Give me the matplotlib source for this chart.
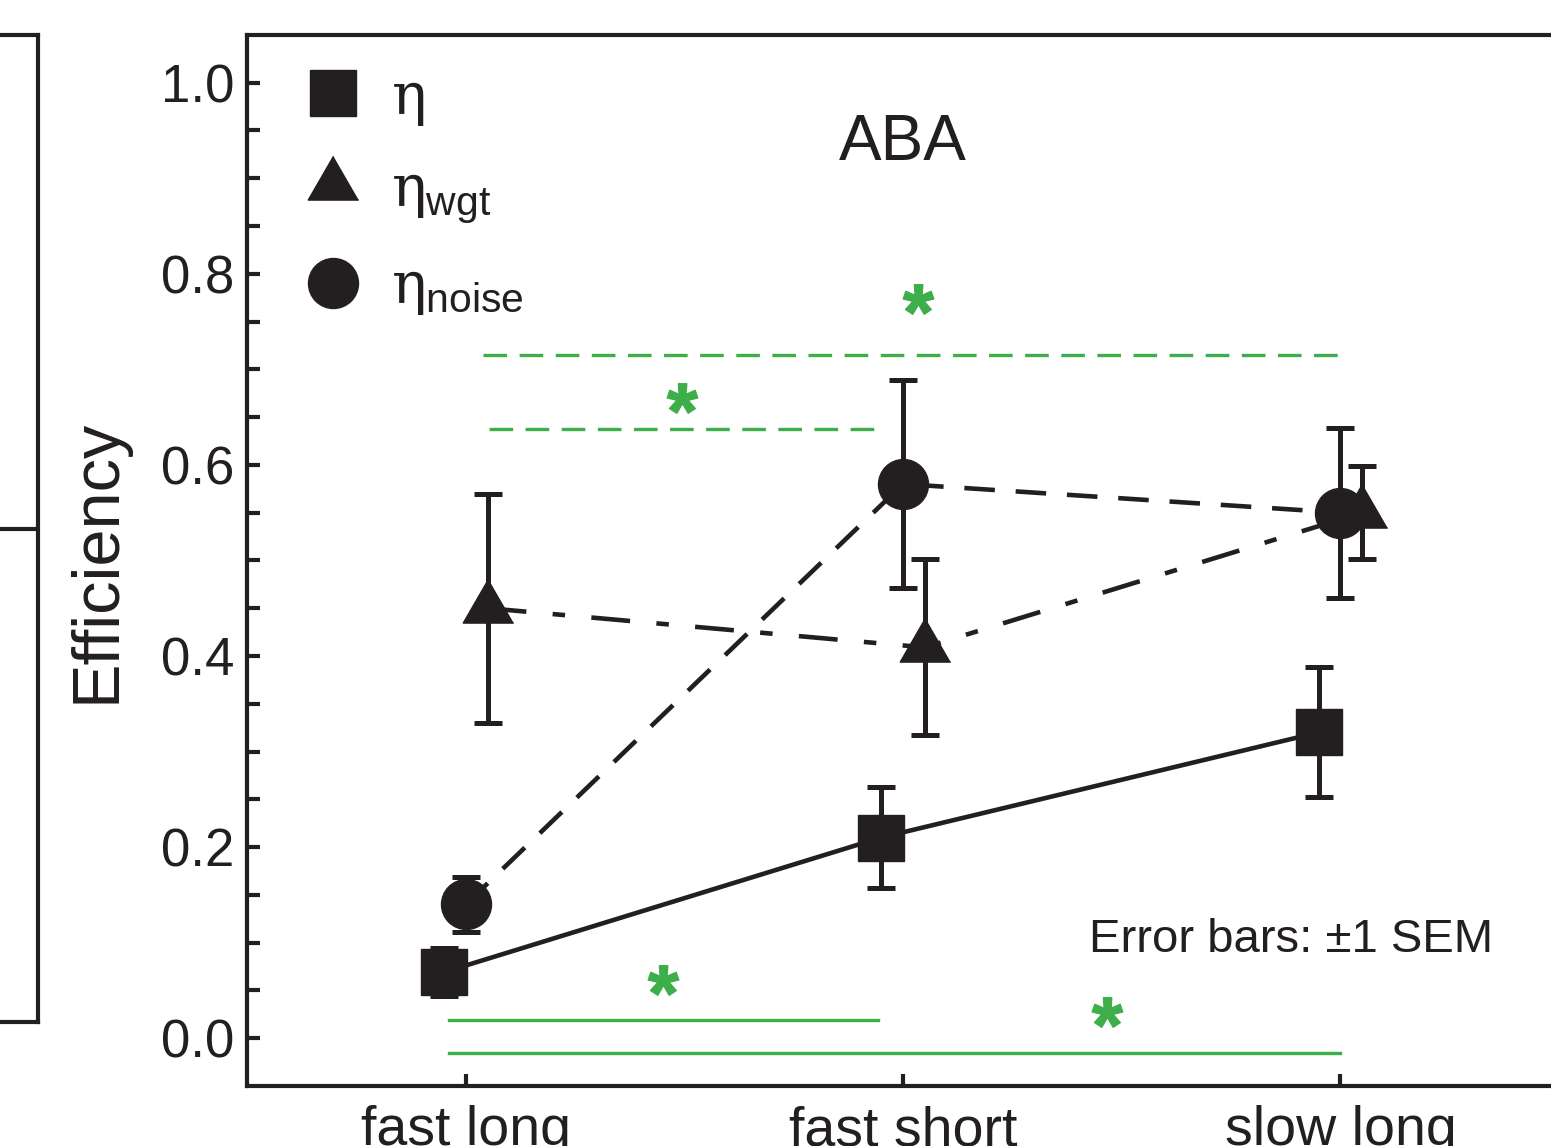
import numpy as np
import matplotlib.pyplot as plt
from matplotlib.lines import Line2D
from matplotlib.textpath import TextPath
from matplotlib.font_manager import FontProperties
from matplotlib.path import Path

plt.rcParams['font.family'] = 'Liberation Sans'
plt.rcParams['mathtext.fontset'] = 'custom'
plt.rcParams['mathtext.it'] = 'DejaVu Serif'
plt.rcParams['mathtext.rm'] = 'Liberation Sans'
plt.rcParams['mathtext.sf'] = 'Liberation Sans'
plt.rcParams['lines.scale_dashes'] = False

# data
conditions = ['fast long', 'fast short', 'slow long']
eta = [0.069, 0.210, 0.320]
eta_sem = [0.025, 0.053, 0.068]
eta_wgt = [0.450, 0.409, 0.550]
eta_wgt_sem = [0.120, 0.092, 0.049]
eta_noise = [0.140, 0.580, 0.550]
eta_noise_sem = [0.029, 0.109, 0.089]

# significance bars (x start, x end, y) and asterisk positions
dashed_bars = [(0.04, 2.01, 0.715), (0.053, 0.939, 0.638)]
solid_bars = [(-0.039, 0.942, 0.019), (-0.039, 2.0, -0.016)]
stars = [(1.033, 0.774), (0.494, 0.670), (0.45, 0.061), (1.467, 0.027)]

black = '#231f20'
green = '#3dae4a'

# centred equilateral triangle and asterisk markers
h = 1 / np.sqrt(3)
tri = [(0, h), (-0.5, -h / 2), (0.5, -h / 2)]
tp = TextPath((0, 0), '*', prop=FontProperties(family='Liberation Sans', weight='bold'))
verts = tp.vertices.copy()
real = tp.codes != Path.CLOSEPOLY
centre = (verts[real].min(axis=0) + verts[real].max(axis=0)) / 2
verts[~real] = centre
star = Path(verts - centre, tp.codes)

fig = plt.figure(figsize=(15.51, 11.46), dpi=100)

# neighbouring panel, only its right edge is visible
ax0 = fig.add_axes([-0.1, 0.108, 0.1245, 0.8615])
for s in ax0.spines.values():
    s.set_linewidth(3)
    s.set_color(black)
ax0.set_xticks([])
ax0.set_ylim(0, 1)
ax0.yaxis.tick_right()
ax0.set_yticks([0.5])
ax0.tick_params(axis='y', direction='in', length=40, width=3, colors=black, labelright=False)

ax = fig.add_axes([0.1593, 0.0524, 0.8459, 0.9171])
x = np.arange(len(conditions))

ax.errorbar(x - 0.05, eta, yerr=eta_sem, fmt='none', ecolor=black, elinewidth=3.6, capsize=10, capthick=3.6)
ax.errorbar(x + 0.05, eta_wgt, yerr=eta_wgt_sem, fmt='none', ecolor=black, elinewidth=3.6, capsize=10, capthick=3.6)
ax.errorbar(x, eta_noise, yerr=eta_noise_sem, fmt='none', ecolor=black, elinewidth=3.6, capsize=10, capthick=3.6)

ax.plot(x - 0.05, eta, color=black, lw=3.3, marker='s', ms=33)
ax.plot(x + 0.05, eta_wgt, color=black, lw=3.3, dashes=(28, 19, 9, 19), marker=tri, ms=42)
ax.plot(x, eta_noise, color=black, lw=3.3, dashes=(22, 15), marker='o', ms=36)

for x0, x1, y in dashed_bars:
    ax.plot([x0, x1], [y, y], color=green, lw=2.4, dashes=(17, 9))
for x0, x1, y in solid_bars:
    ax.plot([x0, x1], [y, y], color=green, lw=2.4)
for sx, sy in stars:
    ax.plot(sx, sy, marker=star, ms=22, color=green, ls='none')

ax.text(1, 0.919, 'ABA', ha='center', va='baseline', fontsize=46, color=black)
ax.text(2.35, 0.090, 'Error bars: \u00b11 SEM', ha='right', va='baseline', fontsize=34, color=black)

handles = [Line2D([], [], ls='none', marker='s', ms=33, color=black),
           Line2D([], [], ls='none', marker=tri, ms=42, color=black),
           Line2D([], [], ls='none', marker='o', ms=36, color=black)]
labels = [r'$\eta$', r'$\eta_{\mathrm{wgt}}$', r'$\eta_{\mathrm{noise}}$']
ax.legend(handles, labels, loc='upper left', bbox_to_anchor=(0.043, 0.965), frameon=False,
          fontsize=42, handlelength=1.0, handletextpad=0.5, labelspacing=0.62,
          borderpad=0, borderaxespad=0, labelcolor=black)

ax.set_xlim(-0.5, 2.5)
ax.set_ylim(-0.05, 1.05)
ax.set_xticks(x)
ax.set_xticklabels(conditions)
ax.set_yticks(np.arange(0, 1.01, 0.2))
ax.set_yticklabels([f'{v:.1f}' for v in np.arange(0, 1.01, 0.2)])
ax.set_yticks(np.arange(0, 1.01, 0.05), minor=True)
ax.tick_params(axis='y', which='both', direction='in', length=9, width=3, colors=black, labelsize=38, pad=9)
ax.tick_params(axis='x', direction='in', length=9, width=3, colors=black, labelsize=40, pad=14)
ax.set_ylabel('Efficiency', fontsize=48, color=black)
ax.yaxis.set_label_coords(-0.09, 0.5)
for s in ax.spines.values():
    s.set_linewidth(3)
    s.set_color(black)

fig.savefig('out.png', dpi=100)
